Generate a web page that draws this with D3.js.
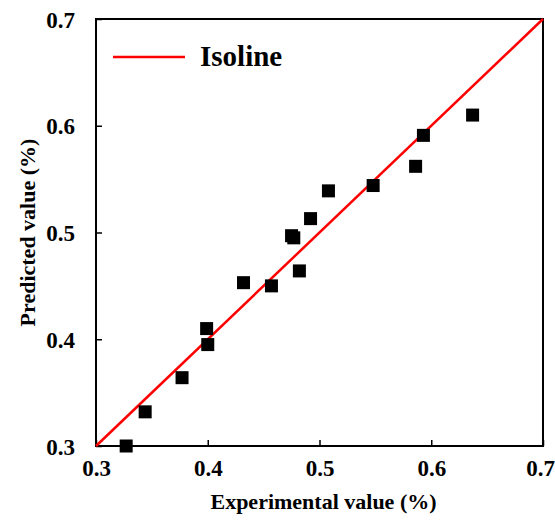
<!DOCTYPE html>
<html>
<head>
<meta charset="utf-8">
<script src="https://cdn.jsdelivr.net/npm/d3@7"></script>
<style>
  body { margin: 0; background: #fff; }
  text { font-family: "Liberation Serif", "Times New Roman", serif; font-weight: bold; fill: #000; }
</style>
</head>
<body>
<svg id="chart" width="555" height="523"></svg>
<script>
// data
var experimental = [0.327, 0.344, 0.377, 0.399, 0.400, 0.432, 0.457, 0.475, 0.477, 0.482, 0.492, 0.508, 0.548, 0.586, 0.593, 0.637];
var predicted    = [0.300, 0.332, 0.364, 0.410, 0.395, 0.453, 0.450, 0.497, 0.495, 0.464, 0.513, 0.539, 0.544, 0.562, 0.591, 0.610];
var isoline = [0.3, 0.7];
var ticks = [0.3, 0.4, 0.5, 0.6, 0.7];

var margin = { left: 96, right: 12, top: 19, bottom: 77 };
var width = 555 - margin.left - margin.right,
    height = 523 - margin.top - margin.bottom;

var svg = d3.select("#chart");
var g = svg.append("g").attr("transform", "translate(" + margin.left + "," + margin.top + ")");

var x = d3.scaleLinear().domain([0.3, 0.7]).range([0, width]);
var y = d3.scaleLinear().domain([0.3, 0.7]).range([height, 0]);

// axes, ticks point inward
var xAxis = g.append("g")
  .attr("transform", "translate(0," + height + ")")
  .call(d3.axisBottom(x).tickValues(ticks).tickSize(-6).tickPadding(13).tickFormat(d3.format(".1f")));
var yAxis = g.append("g")
  .call(d3.axisLeft(y).tickValues(ticks).tickSize(-6).tickPadding(21).tickFormat(d3.format(".1f")));

[xAxis, yAxis].forEach(function(a) {
  a.select(".domain").remove();
  a.selectAll("line").attr("stroke", "#000").attr("stroke-width", 1.5);
  a.selectAll("text").style("font-size", "23px").attr("fill", "#000");
});
xAxis.selectAll("text").attr("dy", "0.72em");
// keep the last label inside the page
xAxis.selectAll("text").filter(function(d) { return d === 0.7; }).attr("dx", "-3");
yAxis.selectAll("text").attr("dy", "0.35em");

// frame
g.append("rect")
  .attr("width", width).attr("height", height)
  .attr("fill", "none").attr("stroke", "#000").attr("stroke-width", 2);

// isoline
var line = d3.line().x(function(d) { return x(d); }).y(function(d) { return y(d); });
g.append("path")
  .datum(isoline)
  .attr("d", line)
  .attr("fill", "none")
  .attr("stroke", "#ff0000")
  .attr("stroke-width", 2.5);

// points
var sz = 13;
g.selectAll(".pt")
  .data(experimental)
  .enter().append("rect")
  .attr("class", "pt")
  .attr("x", function(d) { return x(d) - sz / 2; })
  .attr("y", function(d, i) { return y(predicted[i]) - sz / 2; })
  .attr("width", sz).attr("height", sz)
  .attr("fill", "#000");

// legend
g.append("line")
  .attr("x1", 17).attr("x2", 89).attr("y1", 38).attr("y2", 38)
  .attr("stroke", "#ff0000").attr("stroke-width", 2.5);
g.append("text")
  .attr("x", 104).attr("y", 47)
  .style("font-size", "29px")
  .text("Isoline");

// axis titles
svg.append("text")
  .attr("x", margin.left + width / 2 + 4).attr("y", 509)
  .attr("text-anchor", "middle")
  .style("font-size", "22px")
  .text("Experimental value (%)");

svg.append("text")
  .attr("transform", "translate(35," + (margin.top + height / 2) + ") rotate(-90)")
  .attr("text-anchor", "middle")
  .style("font-size", "22px")
  .text("Predicted value (%)");
</script>
</body>
</html>
